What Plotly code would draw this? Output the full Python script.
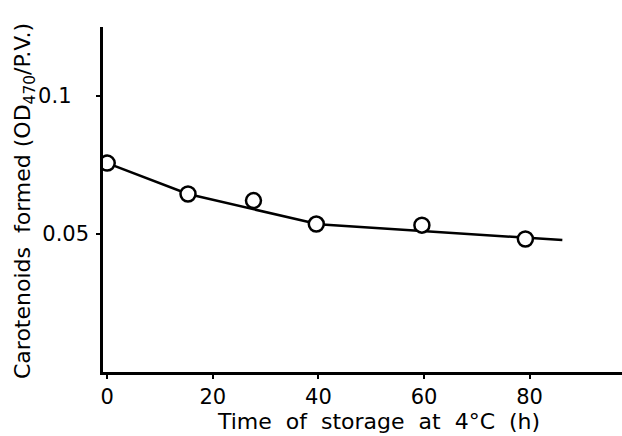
import plotly.graph_objects as go

# Data
time_h = [0, 15.3, 27.7, 39.6, 59.6, 79.2]
carotenoids = [0.0757, 0.0645, 0.0621, 0.0536, 0.0532, 0.0482]

# hand-drawn trend line through the points
curve_t = [0, 15.3, 40, 86.2]
curve_y = [0.0757, 0.0645, 0.0535, 0.0478]

x_ticks = [0, 20, 40, 60, 80]
y_ticks = [0.05, 0.1]
y_ticktext = ["0.05", "0.1\u00a0\u00a0\u2009"]

FONT = "DejaVu Sans"

fig = go.Figure()
fig.add_trace(go.Scatter(x=curve_t, y=curve_y, mode="lines",
                         line=dict(color="black", width=2.5),
                         hoverinfo="skip", showlegend=False))
fig.add_trace(go.Scatter(x=time_h, y=carotenoids, mode="markers",
                         marker=dict(symbol="circle", size=15, color="white",
                                     line=dict(color="black", width=2.5)),
                         showlegend=False))

fig.update_layout(
    width=622, height=436,
    margin=dict(l=103, r=0, t=27, b=64),
    paper_bgcolor="white", plot_bgcolor="white",
    font=dict(family=FONT, size=21, color="black"),
    xaxis=dict(range=[-0.8, 97.5], tickvals=x_ticks, showgrid=False,
               zeroline=False, showline=True, linecolor="black", linewidth=2.5,
               ticks="outside", ticklen=4, tickwidth=2, tickcolor="black",
               ticklabelstandoff=0),
    yaxis=dict(range=[0, 0.125], tickvals=y_ticks, ticktext=y_ticktext,
               showgrid=False, zeroline=False, showline=True,
               linecolor="black", linewidth=2.5,
               ticks="outside", ticklen=4, tickwidth=2, tickcolor="black",
               ticklabelstandoff=3),
    annotations=[
        dict(text="Time  of  storage  at  4°C  (h)", xref="paper", yref="paper",
             x=(378 - 103) / 519, y=-(421 - 372) / 345, xanchor="center",
             yanchor="middle", showarrow=False, font=dict(size=22)),
        dict(text="Carotenoids  formed (OD<sub>470</sub>/P.V.)", xref="paper",
             yref="paper", x=-(103 - 24) / 519, y=(372 - 201) / 345,
             xanchor="center", yanchor="middle", textangle=-90,
             showarrow=False, font=dict(size=22)),
    ],
)

fig.write_html("out.html")
